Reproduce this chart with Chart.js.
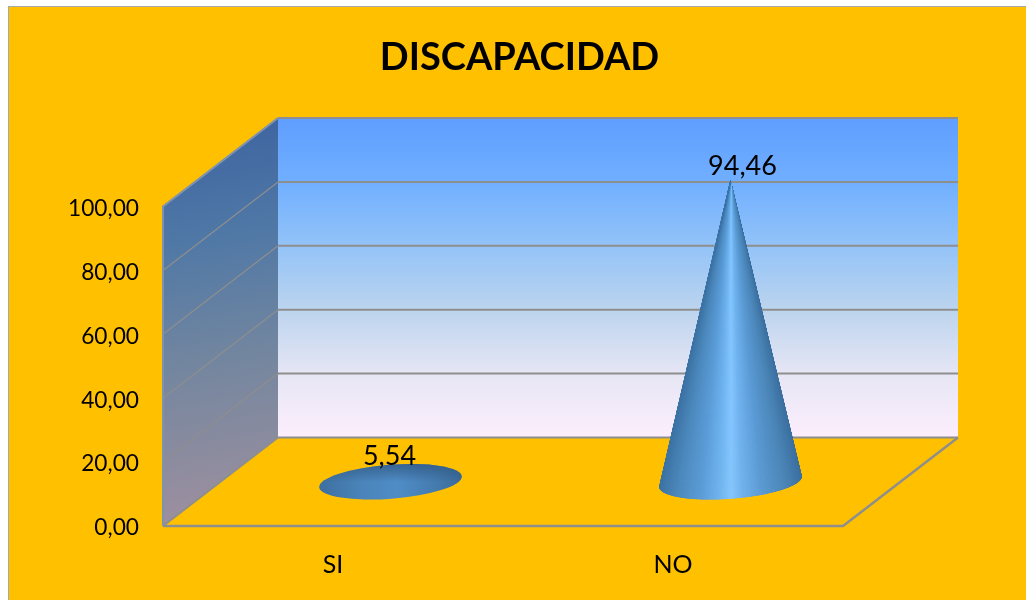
<!DOCTYPE html>
<html>
<head>
<meta charset="utf-8">
<style>html,body{margin:0;padding:0;background:#fff;overflow:hidden}canvas{display:block}</style>
<script src="https://cdn.jsdelivr.net/npm/chart.js@4"></script>
</head>
<body>
<canvas id="c" width="1026" height="600"></canvas>
<script>
const titleText = 'DISCAPACIDAD';
const categories = ['SI', 'NO'];
const seriesValues = [5.54, 94.46];
const yTickLabels = ['0,00', '20,00', '40,00', '60,00', '80,00', '100,00'];

const FONT = 'Lato, Carlito, sans-serif';
const DEPTH_X = 115, DEPTH_Y = -88.5;
const RX = 71.5, RY = 17, TILT = -4.4 * Math.PI / 180;
const LABEL_SHIFT = [[-1, -8], [12, -14]];
const GREY = '#8e8e8e';

function hexMix(stops, s) {
  for (let i = 1; i < stops.length; i++) {
    if (s <= stops[i][0]) {
      const a = stops[i - 1], b = stops[i], k = (s - a[0]) / (b[0] - a[0] || 1);
      const c = [0, 1, 2].map(j => Math.round(a[1][j] + (b[1][j] - a[1][j]) * k));
      return `rgb(${c[0]},${c[1]},${c[2]})`;
    }
  }
  const l = stops[stops.length - 1][1];
  return `rgb(${l[0]},${l[1]},${l[2]})`;
}
const TALL = [[0,[62,116,165]],[0.12,[76,136,188]],[0.3,[92,158,218]],[0.42,[112,180,240]],[0.5,[132,198,255]],[0.58,[112,178,238]],[0.72,[90,154,212]],[0.88,[76,134,184]],[1,[60,112,160]]];

function drawCone(ctx, cx, cy, ax, ay) {
  const cos = Math.cos(TILT), sin = Math.sin(TILT);
  const pt = t => {
    const ex = RX * Math.cos(t), ey = RY * Math.sin(t);
    return [cx + ex * cos - ey * sin, cy + ex * sin + ey * cos];
  };
  const dx = ax - cx, dy = ay - cy;
  const lx = (dx * cos + dy * sin) / RX, ly = (-dx * sin + dy * cos) / RY;
  ctx.save();
  if (lx * lx + ly * ly < 1.4) {
    // The apex falls about on the base outline: seen as a shaded flat ellipse.
    ctx.beginPath();
    ctx.ellipse(cx, cy, RX, RY, TILT, 0, Math.PI * 2);
    ctx.clip();
    let g = ctx.createLinearGradient(cx - RX, cy, cx + RX, cy);
    g.addColorStop(0, '#3d6f9f'); g.addColorStop(0.3, '#4a84ba');
    g.addColorStop(0.55, '#4f8cc6'); g.addColorStop(0.8, '#457cb0'); g.addColorStop(1, '#3a6a98');
    ctx.fillStyle = g;
    ctx.fillRect(cx - RX - 2, cy - RY - 8, 2 * RX + 4, 2 * RY + 16);
    g = ctx.createLinearGradient(0, cy - RY - 2, 0, cy);
    g.addColorStop(0, 'rgba(48,88,130,0.85)'); g.addColorStop(1, 'rgba(48,88,130,0)');
    ctx.fillStyle = g;
    ctx.fillRect(cx - RX - 2, cy - RY - 8, 2 * RX + 4, RY + 8);
    ctx.restore();
    return;
  }
  const N = 720;
  let t0, t1, mx = -Infinity, mn = Infinity;
  for (let i = 0; i < N; i++) {
    const t = -Math.PI / 2 + 2 * Math.PI * i / N, p = pt(t);
    const d = Math.atan2(p[0] - ax, p[1] - ay);
    if (d > mx) { mx = d; t0 = t; }
    if (d < mn) { mn = d; t1 = t; }
  }
  const steps = 160;
  ctx.beginPath();
  ctx.moveTo(ax, ay);
  for (let i = 0; i <= steps; i++) {
    const p = pt(t0 + (t1 - t0) * i / steps);
    ctx.lineTo(p[0], p[1]);
  }
  ctx.closePath();
  ctx.clip();
  for (let i = 0; i < steps; i++) {
    const p = pt(t0 + (t1 - t0) * i / steps), q = pt(t0 + (t1 - t0) * (i + 1) / steps);
    const s = ((p[0] + q[0]) / 2 - (cx - RX)) / (2 * RX);
    const col = hexMix(TALL, s);
    ctx.fillStyle = col; ctx.strokeStyle = col; ctx.lineWidth = 1;
    ctx.beginPath();
    ctx.moveTo(ax, ay); ctx.lineTo(p[0], p[1]); ctx.lineTo(q[0], q[1]); ctx.closePath();
    ctx.fill(); ctx.stroke();
  }
  ctx.restore();
}

const scene = {
  id: 'scene',
  beforeDraw(chart) {
    const ctx = chart.ctx;
    ctx.save();
    ctx.fillStyle = '#ffffff'; ctx.fillRect(0, 0, 1026, 600);
    ctx.fillStyle = '#a8a8a8'; ctx.fillRect(8, 6, 1018, 594);
    ctx.fillStyle = '#ffc000'; ctx.fillRect(9, 7, 1017, 593);
    ctx.restore();
  },
  beforeDatasetsDraw(chart) {
    const ctx = chart.ctx, a = chart.chartArea, ys = chart.scales.y;
    const L = a.left, R = a.right, T = a.top, B = a.bottom;
    const bx = DEPTH_X, by = DEPTH_Y;
    ctx.save();
    let g = ctx.createLinearGradient(0, T + by, 0, B + by);
    g.addColorStop(0, '#5f9eff'); g.addColorStop(0.2, '#70afff');
    g.addColorStop(0.4, '#93c3f8'); g.addColorStop(0.6, '#bcd4ee');
    g.addColorStop(0.8, '#e6e6f5'); g.addColorStop(1, '#fdeefc');
    ctx.fillStyle = g;
    ctx.fillRect(L + bx, T + by, R - L, B - T);

    g = ctx.createLinearGradient(L, T + by, L + bx * 0.6, B);
    g.addColorStop(0, '#3d62a0'); g.addColorStop(0.3, '#4f78a6');
    g.addColorStop(0.6, '#73869f'); g.addColorStop(1, '#a0909f');
    ctx.fillStyle = g;
    ctx.beginPath();
    ctx.moveTo(L, T); ctx.lineTo(L + bx, T + by); ctx.lineTo(L + bx, B + by); ctx.lineTo(L, B);
    ctx.closePath(); ctx.fill();

    ctx.strokeStyle = GREY; ctx.lineCap = 'butt';
    ys.ticks.forEach(t => {
      const y = ys.getPixelForValue(t.value);
      ctx.lineWidth = 2;
      ctx.beginPath(); ctx.moveTo(L + bx, y + by); ctx.lineTo(R + bx, y + by); ctx.stroke();
      ctx.lineWidth = t.value === 0 ? 2 : 1.2;
      ctx.beginPath(); ctx.moveTo(L, y); ctx.lineTo(L + bx, y + by); ctx.stroke();
    });
    ctx.lineWidth = 2;
    ctx.strokeStyle = '#7f93ad';
    ctx.beginPath(); ctx.moveTo(L, B); ctx.lineTo(L, T); ctx.lineTo(L + bx, T + by); ctx.stroke();
    ctx.strokeStyle = GREY; ctx.lineWidth = 2.4;
    ctx.beginPath(); ctx.moveTo(L, B); ctx.lineTo(R, B); ctx.lineTo(R + bx, B + by); ctx.stroke();
    ctx.restore();
  },
  afterDatasetsDraw(chart) {
    const ctx = chart.ctx, meta = chart.getDatasetMeta(0);
    meta.data.forEach(el => {
      drawCone(ctx, el.x + DEPTH_X / 2, el.base + DEPTH_Y / 2, el.x + DEPTH_X / 2, el.y + DEPTH_Y / 2);
    });
    ctx.save();
    ctx.fillStyle = '#000'; ctx.font = '27px ' + FONT;
    ctx.textAlign = 'center'; ctx.textBaseline = 'middle';
    meta.data.forEach((el, i) => {
      const label = seriesValues[i].toFixed(2).replace('.', ',');
      ctx.fillText(label, el.x + DEPTH_X / 2 + LABEL_SHIFT[i][0], el.y + DEPTH_Y / 2 + LABEL_SHIFT[i][1]);
    });
    ctx.restore();
  }
};

new Chart(document.getElementById('c'), {
  type: 'bar',
  data: {
    labels: categories,
    datasets: [{ data: seriesValues, backgroundColor: 'rgba(0,0,0,0)', borderWidth: 0 }]
  },
  options: {
    responsive: false,
    animation: false,
    layout: { padding: { left: 13, right: 0, top: 0, bottom: 0 } },
    plugins: {
      legend: { display: false },
      tooltip: { enabled: false },
      title: {
        display: true, text: titleText, color: '#000',
        font: { family: FONT, size: 38, weight: 'bold' },
        padding: { top: 35, bottom: 125.9 }
      }
    },
    scales: {
      x: {
        grid: { display: false, drawTicks: false }, border: { display: false },
        afterFit: s => { s.height = 74; },
        ticks: { color: '#000', font: { family: FONT, size: 25 }, padding: 24, maxRotation: 0 }
      },
      y: {
        min: 0, max: 100,
        grid: { display: false, drawTicks: false }, border: { display: false },
        afterFit: s => { s.width = 150; },
        ticks: {
          stepSize: 20, color: '#000', font: { family: FONT, size: 22.7 }, padding: 24, labelOffset: 2,
          callback: (v) => yTickLabels[Math.round(v / 20)]
        }
      },
      rightGap: {
        axis: 'y', position: 'right', min: 0, max: 100,
        grid: { display: false, drawTicks: false }, border: { display: false },
        ticks: { display: false },
        afterFit: s => { s.width = 183; }
      }
    }
  },
  plugins: [scene]
});
</script>
</body>
</html>
